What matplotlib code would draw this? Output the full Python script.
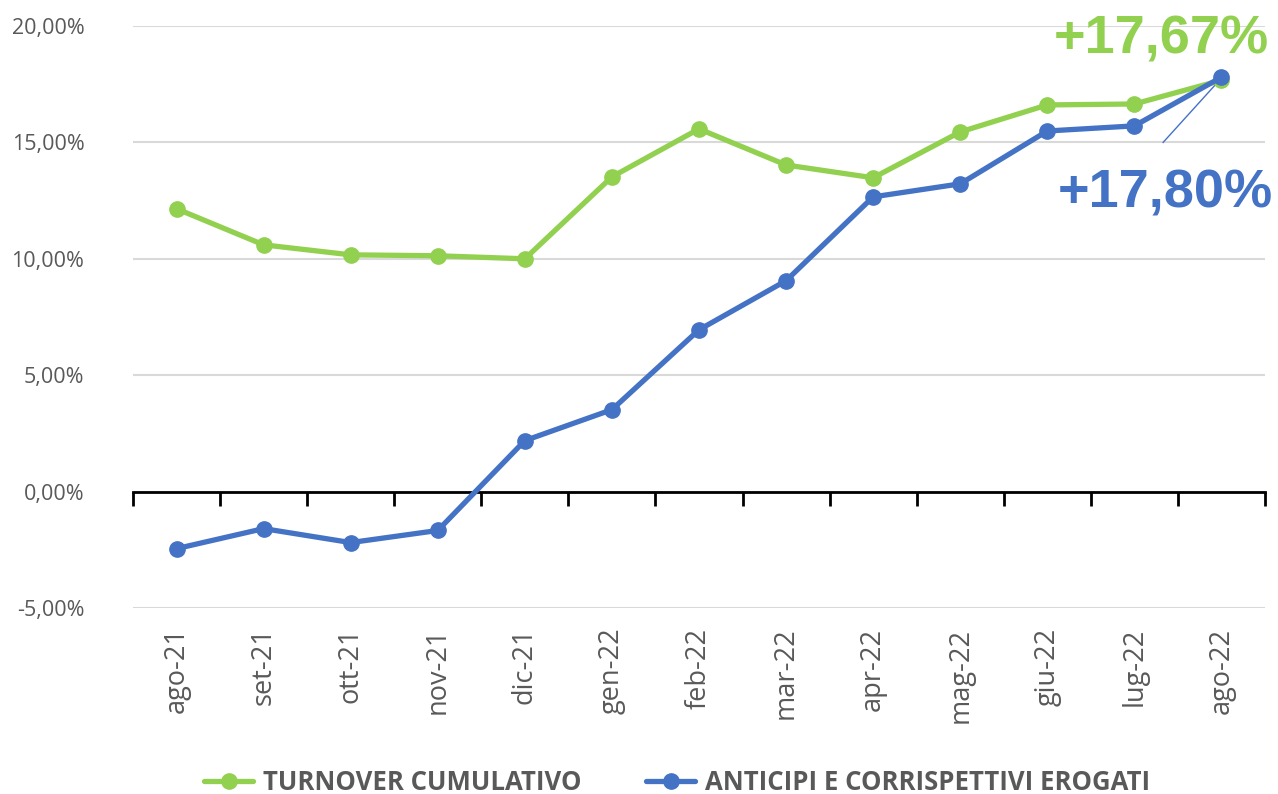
import matplotlib
matplotlib.use("Agg")
import matplotlib.pyplot as plt
from matplotlib.ticker import FuncFormatter
import matplotlib.transforms as mtransforms

months = ["ago-21", "set-21", "ott-21", "nov-21", "dic-21", "gen-22", "feb-22",
          "mar-22", "apr-22", "mag-22", "giu-22", "lug-22", "ago-22"]
turnover = [12.15, 10.60, 10.17, 10.13, 10.00, 13.52, 15.58, 14.03, 13.48,
            15.45, 16.61, 16.65, 17.67]
anticipi = [-2.45, -1.59, -2.19, -1.67, 2.19, 3.52, 6.95, 9.06, 12.66,
            13.22, 15.49, 15.71, 17.80]

green = "#92D050"
blue = "#4472C4"
grey = "#595959"

plt.rcParams['font.family'] = ['Open Sans', 'DejaVu Sans']

fig = plt.figure(figsize=(12.78, 7.94), dpi=100)
ax = fig.add_axes([133/1278, 1 - 608/794, 1132/1278, 582/794])

x = list(range(len(months)))
ax.plot(x, turnover, color=green, lw=3.8, marker='o', ms=11, label='TURNOVER CUMULATIVO',
        solid_capstyle='round', zorder=3)
ax.plot(x, anticipi, color=blue, lw=3.8, marker='o', ms=11, label='ANTICIPI E CORRISPETTIVI EROGATI',
        solid_capstyle='round', zorder=4)

ax.set_xlim(-0.5, len(months) - 0.5)
ax.set_ylim(-5, 20)
ax.set_yticks([-5, 0, 5, 10, 15, 20])
ax.yaxis.set_major_formatter(FuncFormatter(lambda v, p: f"{v:.2f}%".replace(".", ",")))
ax.tick_params(axis='y', length=0, labelsize=15.5, labelcolor=grey, pad=35)
ax.grid(axis='y', color='#D9D9D9', lw=1.5)
ax.set_axisbelow(True)

for s in ['top', 'right', 'left']:
    ax.spines[s].set_visible(False)
ax.spines['bottom'].set_position(('data', 0))
ax.spines['bottom'].set_color('black')
ax.spines['bottom'].set_linewidth(2)
ax.set_xticks([i - 0.5 for i in range(len(months) + 1)])
ax.set_xticklabels([])
ax.tick_params(axis='x', length=10, width=2, direction='out', color='black')

sec = ax.secondary_xaxis(0)
sec.set_xticks(x)
sec.set_xticklabels(months, rotation=90, fontsize=19.5, color=grey)
sec.tick_params(length=0, pad=14)
sec.spines['bottom'].set_visible(False)

# end labels
shift = mtransforms.offset_copy(ax.transData, fig=fig, x=4, y=-3, units='dots')
ax.text(12.5, turnover[-1] + 1.9, "+17,67%", color=green, fontsize=39, fontweight='bold',
        family=['Liberation Sans', 'DejaVu Sans'], ha='right', va='center', transform=shift)
ax.text(12.55, 12.95, "+17,80%", color=blue, fontsize=39, fontweight='bold',
        family=['Liberation Sans', 'DejaVu Sans'], ha='right', va='center', transform=shift)
ax.plot([11.33, 11.96], [15.0, 17.6], color=blue, lw=1, zorder=2)

leg = fig.legend(loc='center', bbox_to_anchor=(0.53, 1 - 782/794), ncol=2, frameon=False,
                 prop={'weight': 'bold', 'size': 18.5}, handlelength=1.9, columnspacing=2.5,
                 handletextpad=0.4)
for t in leg.get_texts():
    t.set_color(grey)

fig.savefig("out.png", dpi=100)
